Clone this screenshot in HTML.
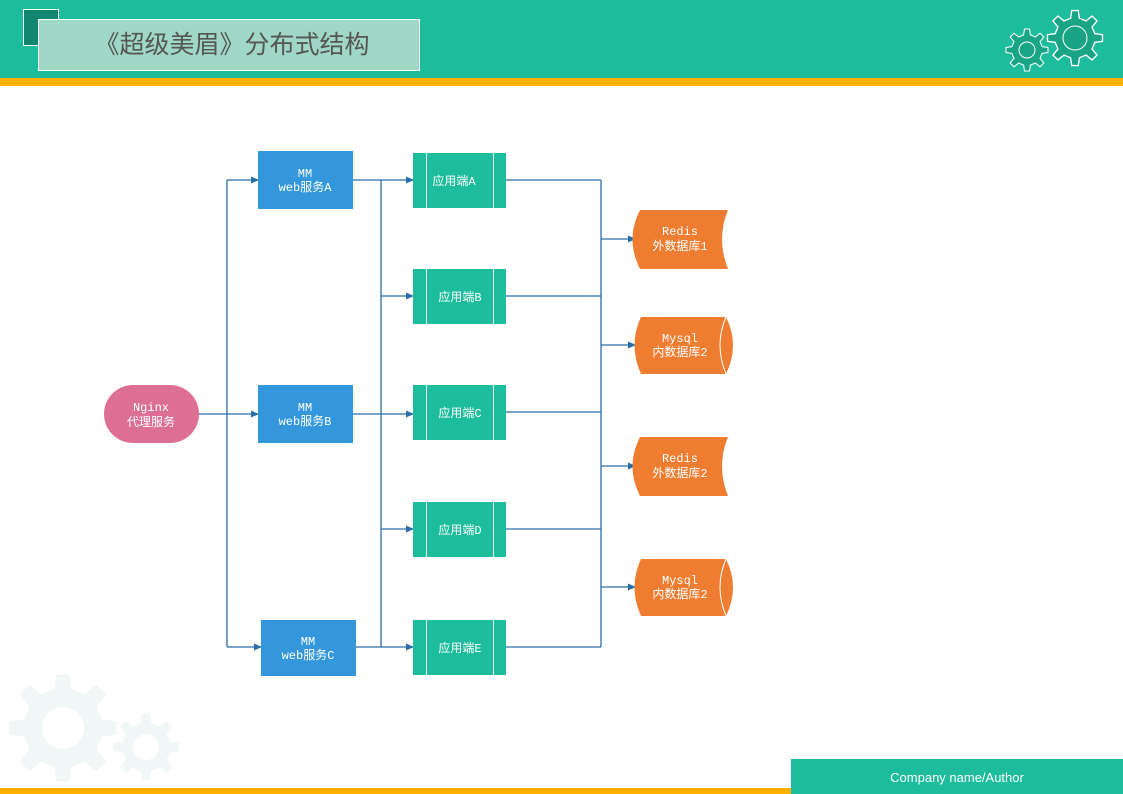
<!DOCTYPE html>
<html><head><meta charset="utf-8"><style>
body{margin:0;width:1123px;height:794px;position:relative;overflow:hidden;background:#fff;font-family:"Liberation Sans","Noto Sans CJK SC",sans-serif}
.t{font-family:"Liberation Mono","Noto Sans CJK SC",monospace;font-size:12px;fill:#fff;text-anchor:middle}
</style></head><body>
<svg width="1123" height="794" style="position:absolute;left:0;top:0">
<defs><marker id="a" markerWidth="8" markerHeight="8" refX="7" refY="4" orient="auto" markerUnits="userSpaceOnUse"><path d="M0,0.5L8,4L0,7.5z" fill="#2a6fa8"/></marker>
<g id="gear"><path d="M-6,-50 L6,-50 L8,-36 L20,-31 L31,-40 L40,-31 L31,-20 L36,-8 L50,-6 L50,6 L36,8 L31,20 L40,31 L31,40 L20,31 L8,36 L6,50 L-6,50 L-8,36 L-20,31 L-31,40 L-40,31 L-31,20 L-36,8 L-50,6 L-50,-6 L-36,-8 L-31,-20 L-40,-31 L-31,-40 L-20,-31 L-8,-36z"/></g></defs>
<rect x="0" y="0" width="1123" height="78" fill="#1cbc9c"/>
<rect x="0" y="78" width="1123" height="8" fill="#ffb000"/>
<rect x="23.5" y="9.5" width="35" height="36" fill="#128670" stroke="#fff"/>
<rect x="38.5" y="19.5" width="381" height="51" fill="#a0d8c8" stroke="#fff"/>
<text x="232" y="53" font-size="25" fill="#555" text-anchor="middle" font-family="Liberation Sans,Noto Sans CJK SC,sans-serif">《超级美眉》分布式结构</text>
<g fill="#19a486" stroke="#fff" stroke-width="2.5">
<use href="#gear" transform="translate(1027,50) scale(0.42)"/>
<use href="#gear" transform="translate(1075,38) scale(0.55)"/>
</g>
<circle cx="1027" cy="50" r="8" fill="none" stroke="#fff"/>
<circle cx="1075" cy="38" r="12" fill="none" stroke="#fff"/>
<g fill="#f1f6f6">
<use href="#gear" transform="translate(63,728) scale(1.08)"/>
<use href="#gear" transform="translate(146,747) scale(0.66)"/>
</g>
<circle cx="63" cy="728" r="21" fill="#fff"/>
<circle cx="146" cy="747" r="13" fill="#fff"/>
<rect x="0" y="788" width="1123" height="6" fill="#ffb000"/>
<rect x="791" y="759" width="332" height="35" fill="#1cbc9c"/>
<text x="957" y="782" font-size="13" fill="#fff" text-anchor="middle">Company name/Author</text>

<g stroke="#2a6fa8" stroke-width="1.3" fill="none">
<path d="M199,414H258" marker-end="url(#a)"/>
<path d="M227,180V647"/>
<path d="M227,180H258" marker-end="url(#a)"/>
<path d="M227,647H261" marker-end="url(#a)"/>
<path d="M381,180V647"/>
<path d="M353,180H413" marker-end="url(#a)"/>
<path d="M353,414H413" marker-end="url(#a)"/>
<path d="M356,647H413" marker-end="url(#a)"/>
<path d="M381,296H413" marker-end="url(#a)"/>
<path d="M381,529H413" marker-end="url(#a)"/>
<path d="M601,180V647"/>
<path d="M506,180H601M506,296H601M506,412H601M506,529H601M506,647H601"/>
<path d="M601,239H635" marker-end="url(#a)"/>
<path d="M601,345H635" marker-end="url(#a)"/>
<path d="M601,466H635" marker-end="url(#a)"/>
<path d="M601,587H635" marker-end="url(#a)"/>
</g>

<rect x="104" y="385" width="95" height="58" rx="29" fill="#dc6f93"/>
<text class="t" x="151" y="411">Nginx</text><text class="t" x="151" y="426">代理服务</text>

<rect x="258" y="151" width="95" height="58" fill="#3597db"/>
<text class="t" x="305" y="177">MM</text><text class="t" x="305" y="191">web服务A</text>
<rect x="258" y="385" width="95" height="58" fill="#3597db"/>
<text class="t" x="305" y="411">MM</text><text class="t" x="305" y="425">web服务B</text>
<rect x="261" y="620" width="95" height="56" fill="#3597db"/>
<text class="t" x="308" y="645">MM</text><text class="t" x="308" y="659">web服务C</text>

<g fill="#1cbc9c">
<rect x="413" y="153" width="93" height="55"/><rect x="413" y="269" width="93" height="55"/><rect x="413" y="385" width="93" height="55"/><rect x="413" y="502" width="93" height="55"/><rect x="413" y="620" width="93" height="55"/>
</g>
<g stroke="#fff" stroke-width="1">
<path d="M426.5,153V208M493.5,153V208M426.5,269V324M493.5,269V324M426.5,385V440M493.5,385V440M426.5,502V557M493.5,502V557M426.5,620V675M493.5,620V675"/>
</g>
<text class="t" x="454" y="185">应用端A</text>
<text class="t" x="460" y="301">应用端B</text>
<text class="t" x="460" y="417">应用端C</text>
<text class="t" x="460" y="534">应用端D</text>
<text class="t" x="460" y="652">应用端E</text>

<g fill="#ef7d31">
<path d="M640,210H728Q716,239 728,269H640Q625,239 640,210z"/>
<path d="M640,437H728Q716,466 728,496H640Q625,466 640,437z"/>
<path d="M641,317H726Q740,345 726,374H641Q628,345 641,317z"/>
<path d="M641,559H726Q740,587 726,616H641Q628,587 641,559z"/>
</g>
<path d="M726,317Q714,345 726,374M726,559Q714,587 726,616" stroke="#fff" fill="none"/>
<text class="t" x="680" y="235">Redis</text><text class="t" x="680" y="250">外数据库1</text>
<text class="t" x="680" y="342">Mysql</text><text class="t" x="680" y="356">内数据库2</text>
<text class="t" x="680" y="462">Redis</text><text class="t" x="680" y="477">外数据库2</text>
<text class="t" x="680" y="584">Mysql</text><text class="t" x="680" y="598">内数据库2</text>
</svg>
</body></html>
